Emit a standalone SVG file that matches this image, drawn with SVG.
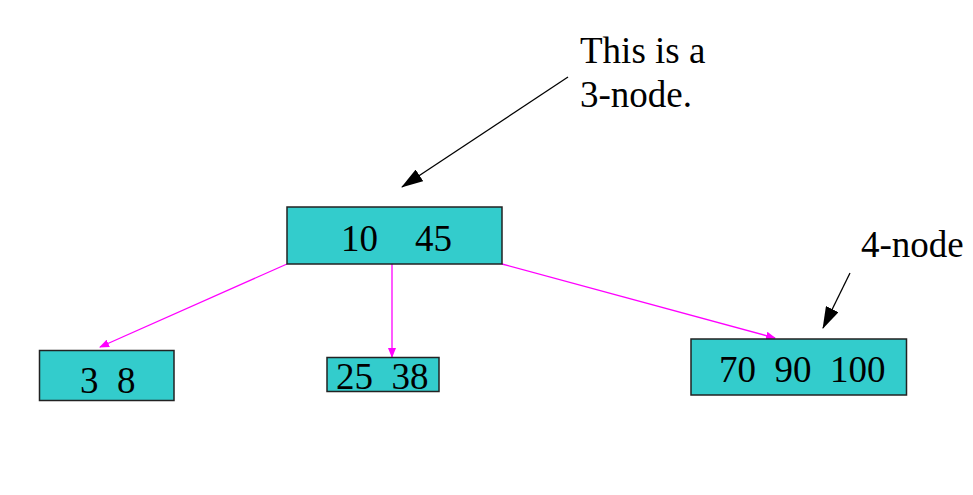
<svg xmlns="http://www.w3.org/2000/svg" width="973" height="495" viewBox="0 0 973 495">
<style>
.box{fill:#33CCCC;stroke:#222;stroke-width:1.5}
.t{font-family:"Liberation Serif","Times New Roman",serif;font-size:37px;fill:#000;white-space:pre}
.mag{stroke:#FF00FF;stroke-width:1.3;fill:none;marker-end:url(#ma)}
.blk{stroke:#000;stroke-width:1.3;fill:none;marker-end:url(#ba)}
</style>
<defs>
<marker id="ma" markerWidth="10" markerHeight="8" refX="9" refY="4" orient="auto" markerUnits="userSpaceOnUse">
<path d="M0,0 L10,4 L0,8 Z" fill="#FF00FF"/>
</marker>
<marker id="ba" markerWidth="22" markerHeight="14" refX="21" refY="7" orient="auto" markerUnits="userSpaceOnUse">
<path d="M0,0 L22,7 L0,14 Z" fill="#000"/>
</marker>
</defs>
<rect width="973" height="495" fill="#fff"/>
<g id="connectors">
<line class="mag" x1="287" y1="264" x2="100" y2="347"/>
<line class="mag" x1="392" y1="264" x2="392" y2="357"/>
<line class="mag" x1="502" y1="264" x2="775" y2="338"/>
<line class="blk" x1="568" y1="77" x2="402" y2="187"/>
<line class="blk" x1="850" y1="273" x2="823" y2="328"/>
</g>
<g id="root">
<rect class="box" x="287" y="207" width="215" height="57"/>
<text class="t" x="341" y="251">10    45</text>
</g>
<g id="n38">
<rect class="box" x="39.5" y="350.5" width="134.5" height="50"/>
<text class="t" x="80" y="393">3  8</text>
</g>
<g id="n2538">
<rect class="box" x="327" y="357.5" width="112" height="34"/>
<text class="t" x="336" y="389">25  38</text>
</g>
<g id="n7090100">
<rect class="box" x="691" y="339" width="215.5" height="56"/>
<text class="t" x="719" y="382">70  90  100</text>
</g>
<g id="label3node">
<text class="t" x="580" y="63">This is a</text>
<text class="t" x="580" y="107">3-node.</text>
</g>
<g id="label4node">
<text class="t" x="861" y="257">4-node</text>
</g>
</svg>
